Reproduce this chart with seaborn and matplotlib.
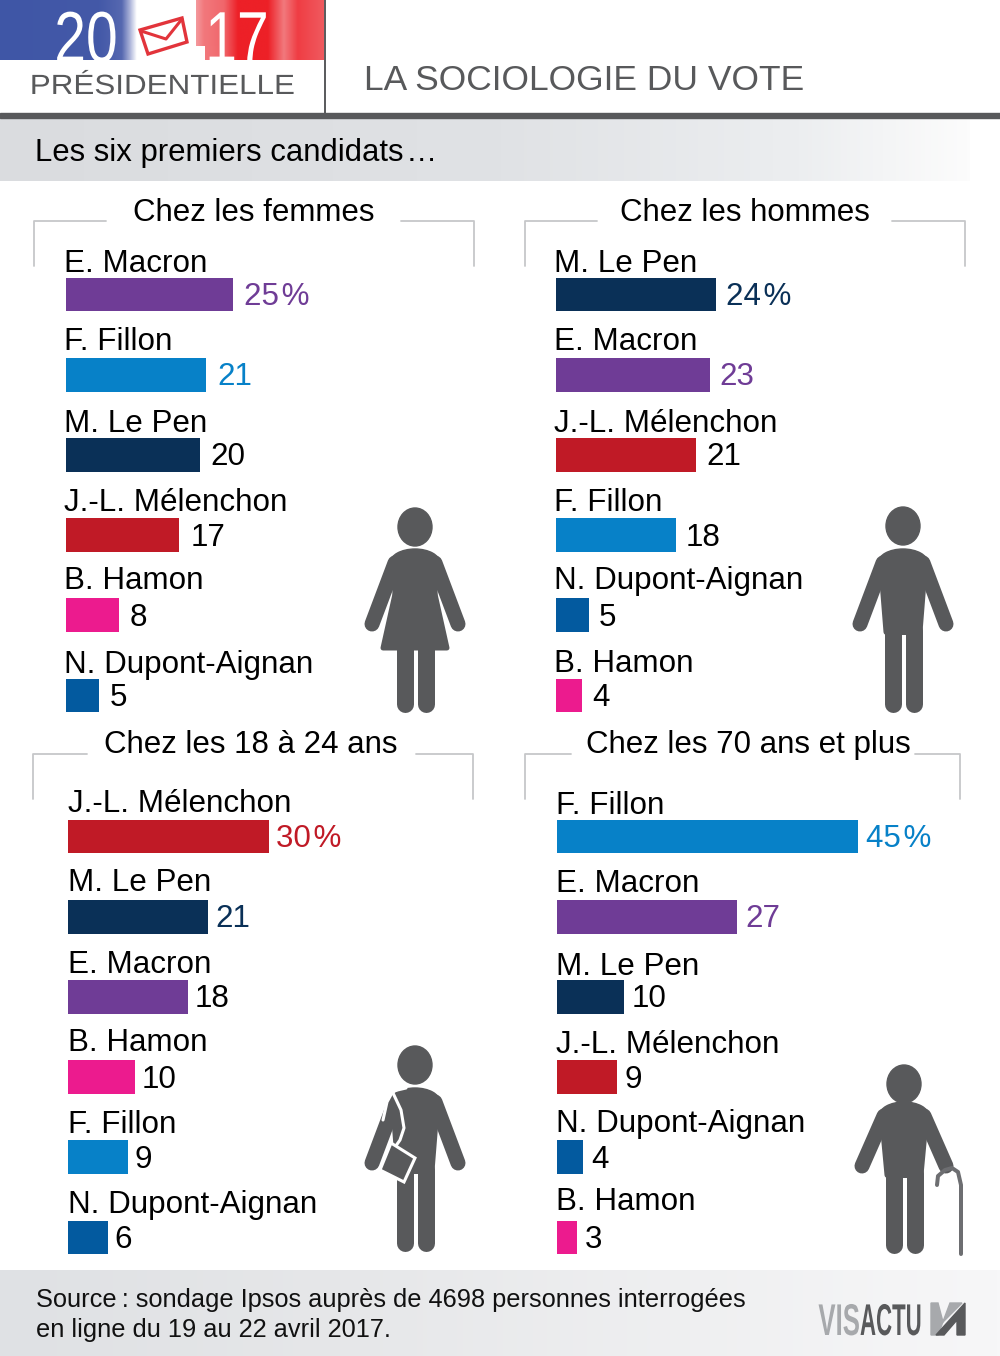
import numpy as np
import pandas as pd
import matplotlib
matplotlib.use('Agg')
import matplotlib.pyplot as plt
from matplotlib.patches import Ellipse, Polygon, Rectangle
from matplotlib.patheffects import AbstractPathEffect
from matplotlib.transforms import Affine2D
import seaborn as sns

# Values
femmes_names = ['E. Macron', 'F. Fillon', 'M. Le Pen', 'J.-L. Mélenchon', 'B. Hamon', 'N. Dupont-Aignan']
femmes_values = [25, 21, 20, 17, 8, 5]
hommes_names = ['M. Le Pen', 'E. Macron', 'J.-L. Mélenchon', 'F. Fillon', 'N. Dupont-Aignan', 'B. Hamon']
hommes_values = [24, 23, 21, 18, 5, 4]
jeunes_names = ['J.-L. Mélenchon', 'M. Le Pen', 'E. Macron', 'B. Hamon', 'F. Fillon', 'N. Dupont-Aignan']
jeunes_values = [30, 21, 18, 10, 9, 6]
seniors_names = ['F. Fillon', 'E. Macron', 'M. Le Pen', 'J.-L. Mélenchon', 'N. Dupont-Aignan', 'B. Hamon']
seniors_values = [45, 27, 10, 9, 4, 3]

colors = {
    'E. Macron': '#6f3c96',
    'F. Fillon': '#0781c8',
    'M. Le Pen': '#0a3057',
    'J.-L. Mélenchon': '#c01a26',
    'B. Hamon': '#ec1b8e',
    'N. Dupont-Aignan': '#035a9f',
}

GREY = '#58595b'
W, H = 1000, 1356
FS = 22.5

sns.set_theme(style='white')
plt.rcParams['font.family'] = ['Liberation Sans', 'DejaVu Sans']

fig = plt.figure(figsize=(W / 100, H / 100), dpi=100)
fig.patch.set_facecolor('white')
bg = fig.add_axes([0, 0, 1, 1])
bg.set_xlim(0, W)
bg.set_ylim(H, 0)
bg.axis('off')


def px(n):
    return n * 0.72


class Stretch(AbstractPathEffect):
    # squeeze or widen a text around x0, there is no condensed font here
    def __init__(self, sx, x0):
        super().__init__()
        self.sx = sx
        self.x0 = x0

    def draw_path(self, renderer, gc, tpath, affine, rgbFace=None):
        t = affine + Affine2D().translate(-self.x0, 0).scale(self.sx, 1).translate(self.x0, 0)
        renderer.draw_path(gc, tpath, t, rgbFace)


def gradient(y0, y1, stops):
    xs = [s[0] for s in stops]
    rgb = np.array([matplotlib.colors.to_rgb(s[1]) for s in stops])
    grid = np.linspace(xs[0], xs[-1], 300)
    img = np.stack([np.interp(grid, xs, rgb[:, k]) for k in range(3)], axis=-1)[None, :, :]
    bg.imshow(img, extent=(xs[0], xs[-1], y1, y0), aspect='auto', zorder=1)
    bg.set_xlim(0, W)
    bg.set_ylim(H, 0)


# header
gradient(0, 60, [(0, '#3f56a6'), (100, '#4459a8'), (122, '#5668b0'), (130, '#a9b1d8'), (137, '#ffffff')])
gradient(0, 46, [(196, '#f4999d'), (204, '#f2787c'), (224, '#f0666b'), (238, '#ed2027'),
                 (268, '#ed2027'), (284, '#f2797d'), (298, '#ef3d44'), (324, '#f05a5f')])
gradient(46, 60, [(205, '#f2787c'), (224, '#f0666b'), (238, '#ed2027'),
                  (268, '#ed2027'), (284, '#f2797d'), (298, '#ef3d44'), (324, '#f05a5f')])

bg.text(86, 62, '20', color='white', fontsize=52, ha='center', va='baseline', zorder=3,
        path_effects=[Stretch(0.79, 86)])
bg.text(237, 62, '17', color='white', fontsize=52, ha='center', va='baseline', zorder=3,
        path_effects=[Stretch(0.79, 237)])
env = [(140, 30), (182, 18), (187, 42), (148, 54)]
bg.add_patch(Polygon(env, closed=True, fill=True, fc='white', ec='#e2343b', lw=2.4, zorder=4))
bg.plot([141, 166, 182], [31, 39, 19], color='#e2343b', lw=2.2, zorder=5)
bg.text(162, 87, 'PRÉSIDENTIELLE', color=GREY, fontsize=20, ha='center', va='center', zorder=3,
        path_effects=[Stretch(1.13, 162)])
bg.text(584, 81, 'LA SOCIOLOGIE DU VOTE', color=GREY, fontsize=25.5, ha='center', va='center', zorder=3)
bg.plot([324.5, 324.5], [0, 113], color=GREY, lw=1.4, zorder=3)
bg.add_patch(Rectangle((0, 113), W, 5, color=GREY, zorder=3))

# banners
gradient(118, 181, [(0, '#dadcdf'), (500, '#e0e2e5'), (800, '#eceef0'), (970, '#fcfcfc')])
bg.text(35, 153, 'Les six premiers candidats\u200a…', color='black', fontsize=22.4, va='center', zorder=3)
gradient(1270, 1356, [(0, '#dfe1e4'), (340, '#e6e7e9'), (1000, '#f7f7f8')])
bg.text(36, 1300, 'Source\u2009: sondage Ipsos auprès de 4698 personnes interrogées',
        color='#111111', fontsize=18.3, va='center', zorder=3)
bg.text(36, 1330, 'en ligne du 19 au 22 avril 2017.', color='#111111', fontsize=18.3, va='center', zorder=3)
bg.text(860, 1335, 'VIS', color='#a7a9ac', fontsize=32, weight='bold', va='baseline', ha='right', zorder=3,
        path_effects=[Stretch(0.58, 860)])
bg.text(860, 1335, 'ACTU', color=GREY, fontsize=32, weight='bold', va='baseline', ha='left', zorder=3,
        path_effects=[Stretch(0.5, 860)])
bg.add_patch(Polygon([(931, 1303), (938, 1303), (943, 1322), (962, 1303), (950, 1303), (938, 1335), (931, 1335)],
                     closed=True, color='#a7a9ac', zorder=3))
bg.add_patch(Polygon([(936, 1335), (965, 1303), (965, 1335), (957, 1335), (957, 1320), (944, 1335)],
                     closed=True, color=GREY, zorder=4))


def bracket(x0, x1, x2, x3, top, bottom):
    bg.plot([x0, x0, x1], [bottom, top, top], color='#c6c7c9', lw=1.3, zorder=2)
    bg.plot([x2, x3, x3], [top, top, bottom], color='#c6c7c9', lw=1.3, zorder=2)


bracket(34, 106, 401, 474, 221, 266)
bracket(525, 597, 892, 965, 221, 266)
bracket(33, 87, 416, 473, 754, 799)
bracket(525, 571, 915, 960, 754, 799)

bg.text(254, 213, 'Chez les femmes', color='black', fontsize=FS, ha='center', va='center', zorder=3)
bg.text(745, 213, 'Chez les hommes', color='black', fontsize=FS, ha='center', va='center', zorder=3)
bg.text(251, 745, 'Chez les 18 à 24 ans', color='black', fontsize=FS, ha='center', va='center', zorder=3)
bg.text(748, 745, 'Chez les 70 ans et plus', color='black', fontsize=FS, ha='center', va='center', zorder=3)


def panel(names, values, left, first_row, name_dx, value_pad, nudge):
    # 6.7 px per point, rows 80.2 px apart
    row = 80.2
    top = first_row - row / 2
    height = row * 6
    width = 6.7 * 50
    ax = fig.add_axes([(left - 0.5) / W, 1 - (top + height) / H, width / W, height / H], facecolor='none')
    df = pd.DataFrame({'candidat': names, 'score': values})
    sns.barplot(data=df, x='score', y='candidat', hue='candidat', palette=colors,
                order=names, hue_order=names, dodge=False, legend=False, width=0.42,
                saturation=1, linewidth=0, ax=ax)
    ax.set_xlim(0, 50)
    ax.set_ylim(5.5, -0.5)
    ax.axis('off')
    for i, (name, value) in enumerate(zip(names, values)):
        ax.annotate(name, (0, i), xytext=(px(name_dx), px(32 - nudge[i])), textcoords='offset points',
                    fontsize=22.6, color='black', va='center', ha='left', annotation_clip=False)
        label = f'{value}\u200a%' if i == 0 else str(value)
        ax.annotate(label, (value, i), xytext=(px(value_pad), px(-2.5)), textcoords='offset points',
                    fontsize=22.6, color=colors[name] if i < 2 else 'black', va='center', ha='left',
                    annotation_clip=False)
    return ax


panel(femmes_names, femmes_values, 66, 294.5, -1, 11, (2, -1, 1, 0, -2, 1))
panel(hommes_names, hommes_values, 556, 294.5, -1, 10, (2, -1, 1, 0, -2, 1))
panel(jeunes_names, jeunes_values, 68, 836.5, 1, 7, (0, -2, 0, -2, 0, 0))
panel(seniors_names, seniors_values, 557, 836.5, -1, 8, (2, -1, 2, 0, -1, -3))


def limb(x, y, width):
    bg.plot(x, y, color=GREY, lw=px(width), solid_capstyle='round', zorder=6)


def person(cx, head_y, sh_y, hand_y, foot_y, crotch_y, spread=43):
    bg.add_patch(Ellipse((cx, head_y), 34, 38, color=GREY, zorder=6))
    # arms
    limb([cx - 20, cx - spread], [sh_y + 14, hand_y], 15)
    limb([cx + 20, cx + spread], [sh_y + 14, hand_y], 15)
    # rounded shoulders
    bg.add_patch(Ellipse((cx, sh_y + 14), 50, 28, color=GREY, zorder=6))
    # torso
    bg.add_patch(Polygon([(cx - 22, sh_y + 14), (cx + 22, sh_y + 14),
                          (cx + 16.5, crotch_y - 3), (cx - 16.5, crotch_y - 3)],
                         closed=True, fc=GREY, ec=GREY, lw=px(6), joinstyle='round', zorder=6))
    # legs
    limb([cx - 10.5, cx - 10.5], [crotch_y - 5, foot_y - 8], 17)
    limb([cx + 10.5, cx + 10.5], [crotch_y - 5, foot_y - 8], 17)


# woman
person(415, 527, 549, 624, 712, 632)
bg.add_patch(Polygon([(397, 585), (433, 585), (447, 648), (383, 648)], closed=True, fc=GREY, ec=GREY,
                     lw=px(5), joinstyle='round', zorder=6))

# man
person(903, 526, 549, 624, 712, 635)

# student with a bag
person(415, 1065, 1088, 1163, 1251, 1174)
bg.plot([406, 393, 387, 383], [1088, 1091, 1102, 1120], color='white', lw=2.2, zorder=8)
bg.plot([393, 401, 404, 400, 393], [1093, 1110, 1128, 1140, 1150], color='white', lw=2.2, zorder=8)
bg.add_patch(Polygon([(391, 1143), (415, 1158), (404, 1182), (380, 1170)], closed=True, fc=GREY, ec='white',
                     lw=2.2, zorder=8))

# old man with a cane
person(904, 1084, 1102, 1166, 1253, 1178, spread=42)
bg.plot([937, 938, 945, 952, 958, 961, 961], [1185, 1176, 1170, 1168, 1172, 1185, 1254],
        color='#6d6e71', lw=px(4), solid_capstyle='round', zorder=7)

fig.savefig('out.png', dpi=100)
